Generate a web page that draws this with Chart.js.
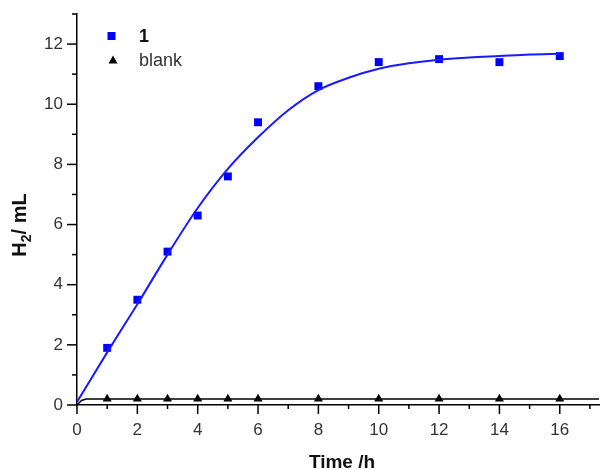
<!DOCTYPE html>
<html>
<head>
<meta charset="utf-8">
<script src="https://cdn.jsdelivr.net/npm/chart.js@4.4.1/dist/chart.umd.min.js"></script>
<style>
  html, body { margin: 0; padding: 0; background: #fff; }
  #wrap { width: 600px; height: 470px; }
</style>
</head>
<body>
<div id="wrap"><canvas id="h2Chart" width="600" height="470"></canvas></div>
<script>
// measured H2 volume for sample "1"
const timeX = [1, 2, 3, 4, 5, 6, 8, 10, 12, 14, 16];
const sampleY = [1.9, 3.5, 5.1, 6.3, 7.6, 9.4, 10.6, 11.4, 11.5, 11.4, 11.6];
// blank run
const blankY = [0.2, 0.2, 0.2, 0.2, 0.2, 0.2, 0.2, 0.2, 0.2, 0.2, 0.2];

// fitted curve for "1"
const fitX = [0, 1, 2, 3, 4, 5, 6, 7, 8, 9, 10, 11, 12, 13, 14, 15, 16];
const fitY = [0.1, 1.75, 3.35, 5.0, 6.55, 7.85, 8.9, 9.8, 10.47, 10.88, 11.18, 11.36, 11.48, 11.55, 11.6, 11.65, 11.68];

// fitted curve for blank
const blankFitX = [0, 0.15, 0.3, 17.3];
const blankFitY = [0, 0.15, 0.2, 0.2];

const xTicks = [0, 2, 4, 6, 8, 10, 12, 14, 16];
const yTicks = [0, 2, 4, 6, 8, 10, 12];

const FONT = "'Liberation Sans', Arial, sans-serif";

function pts(xs, ys) {
  return xs.map((x, i) => ({ x: x, y: ys[i] }));
}

// minor/major tick marks, axis titles and legend
const decorations = {
  id: 'decorations',
  afterDraw(chart) {
    const ctx = chart.ctx;
    const xs = chart.scales.x;
    const ys = chart.scales.y;
    const area = chart.chartArea;
    ctx.save();
    ctx.strokeStyle = '#000';
    ctx.lineWidth = 1.5;
    for (let v = 0; v <= 17; v++) {
      const px = xs.getPixelForValue(v);
      const len = v % 2 === 0 ? 9 : 4;
      ctx.beginPath();
      ctx.moveTo(px, area.bottom);
      ctx.lineTo(px, area.bottom + len);
      ctx.stroke();
    }
    for (let v = 0; v <= 13; v++) {
      const py = ys.getPixelForValue(v);
      const len = v % 2 === 0 ? 10 : 5;
      ctx.beginPath();
      ctx.moveTo(area.left, py);
      ctx.lineTo(area.left - len, py);
      ctx.stroke();
    }

    // x title
    ctx.fillStyle = '#111';
    ctx.font = 'bold 19px ' + FONT;
    ctx.textAlign = 'center';
    ctx.textBaseline = 'alphabetic';
    ctx.fillText('Time /h', 342, 468);

    // y title with subscript
    ctx.save();
    ctx.translate(26, 225);
    ctx.rotate(-Math.PI / 2);
    ctx.textAlign = 'left';
    const f1 = 'bold 20px ' + FONT;
    const f2 = 'bold 14px ' + FONT;
    ctx.font = f1;
    const wH = ctx.measureText('H').width;
    const wRest = ctx.measureText('/ mL').width;
    ctx.font = f2;
    const w2 = ctx.measureText('2').width;
    const total = wH + w2 + wRest;
    let x0 = -total / 2;
    ctx.font = f1;
    ctx.fillText('H', x0, 0);
    ctx.font = f2;
    ctx.fillText('2', x0 + wH, 5);
    ctx.font = f1;
    ctx.fillText('/ mL', x0 + wH + w2, 0);
    ctx.restore();

    // legend
    ctx.fillStyle = '#0000ff';
    ctx.fillRect(107.5, 32, 8, 8);
    ctx.fillStyle = '#000';
    ctx.beginPath();
    ctx.moveTo(113, 55.5);
    ctx.lineTo(117.5, 63.5);
    ctx.lineTo(108.5, 63.5);
    ctx.closePath();
    ctx.fill();
    ctx.textAlign = 'left';
    ctx.textBaseline = 'middle';
    ctx.fillStyle = '#111';
    ctx.font = 'bold 18px ' + FONT;
    ctx.fillText('1', 139, 37);
    ctx.fillStyle = '#333';
    ctx.font = '18px ' + FONT;
    ctx.fillText('blank', 139, 61);
    ctx.restore();
  }
};

new Chart(document.getElementById('h2Chart').getContext('2d'), {
  type: 'scatter',
  data: {
    datasets: [
      {
        label: 'fit 1',
        type: 'line',
        data: pts(fitX, fitY),
        borderColor: '#1a1aff',
        borderWidth: 2,
        pointRadius: 0,
        cubicInterpolationMode: 'monotone',
        fill: false
      },
      {
        label: 'fit blank',
        type: 'line',
        data: pts(blankFitX, blankFitY),
        borderColor: '#000',
        borderWidth: 1.5,
        pointRadius: 0,
        tension: 0,
        fill: false
      },
      {
        label: '1',
        data: pts(timeX, sampleY),
        pointStyle: 'rect',
        pointRadius: 5.6,
        backgroundColor: '#0000ff',
        borderColor: '#0000ff',
        borderWidth: 0
      },
      {
        label: 'blank',
        data: pts(timeX, blankY),
        pointStyle: 'triangle',
        pointRadius: 5.2,
        backgroundColor: '#000',
        borderColor: '#000',
        borderWidth: 0
      }
    ]
  },
  options: {
    responsive: false,
    animation: false,
    layout: { autoPadding: false, padding: { top: 14, right: 1, left: 0, bottom: 0 } },
    plugins: {
      legend: { display: false },
      tooltip: { enabled: false }
    },
    scales: {
      x: {
        type: 'linear',
        min: 0,
        max: 17.3,
        grid: { display: false, drawTicks: false },
        border: { display: true, color: '#000', width: 1.5 },
        afterBuildTicks: (s) => { s.ticks = xTicks.map(v => ({ value: v })); },
        afterFit: (s) => { s.height = 65; s.paddingLeft = 0; s.paddingRight = 0; },
        ticks: {
          padding: 15,
          color: '#333',
          font: { family: FONT, size: 17 },
          maxRotation: 0
        }
      },
      y: {
        type: 'linear',
        min: 0,
        max: 13,
        grid: { display: false, drawTicks: false },
        border: { display: true, color: '#000', width: 1.5 },
        afterBuildTicks: (s) => { s.ticks = yTicks.map(v => ({ value: v })); },
        afterFit: (s) => { s.width = 77; s.paddingTop = 0; s.paddingBottom = 0; },
        ticks: {
          padding: 14,
          color: '#333',
          font: { family: FONT, size: 17 }
        }
      }
    }
  },
  plugins: [decorations]
});
</script>
</body>
</html>
